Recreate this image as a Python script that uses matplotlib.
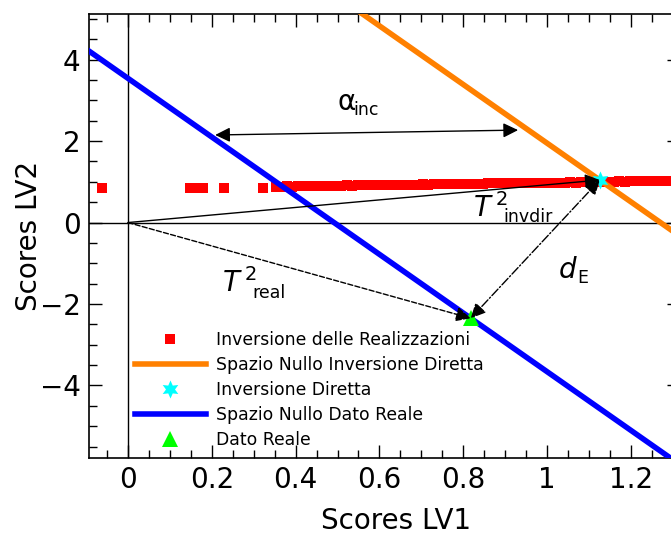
import matplotlib
matplotlib.use("Agg")
import matplotlib.pyplot as plt
from matplotlib.ticker import MultipleLocator, FuncFormatter

plt.rcParams['font.family'] = ['DejaVu Sans']
plt.rcParams['mathtext.fontset'] = 'dejavusans'

# realizzazioni (scores LV1, LV2)
real_x = [-0.063, 0.148, 0.165, 0.179, 0.228, 0.321,
          0.353, 0.366, 0.379, 0.392, 0.405, 0.418, 0.431, 0.444, 0.457, 0.470,
          0.483, 0.496, 0.509, 0.522, 0.535, 0.548, 0.561, 0.574, 0.587, 0.600,
          0.613, 0.626, 0.639, 0.652, 0.665, 0.678, 0.691, 0.704, 0.717, 0.730,
          0.743, 0.756, 0.769, 0.782, 0.795, 0.808, 0.821, 0.834, 0.847,
          0.860, 0.873, 0.886, 0.899, 0.912, 0.925, 0.938, 0.951, 0.964, 0.977,
          0.990, 1.003, 1.016, 1.029, 1.042, 1.055, 1.068, 1.081, 1.094,
          1.107, 1.120, 1.133, 1.146, 1.159, 1.172, 1.185, 1.198, 1.211, 1.224,
          1.237, 1.250, 1.263, 1.276, 1.289, 1.302, 1.315]
real_y = [0.84, 0.86, 0.86, 0.86, 0.86, 0.86,
          0.88, 0.88, 0.89, 0.88, 0.89, 0.89, 0.89, 0.90, 0.89, 0.90,
          0.90, 0.90, 0.90, 0.91, 0.90, 0.91, 0.91, 0.91, 0.91, 0.92,
          0.92, 0.93, 0.93, 0.92, 0.93, 0.93, 0.93, 0.94, 0.93, 0.94,
          0.94, 0.94, 0.94, 0.95, 0.94, 0.95, 0.95, 0.95, 0.95,
          0.96, 0.96, 0.96, 0.97, 0.96, 0.97, 0.97, 0.97, 0.97, 0.98,
          0.97, 0.98, 0.98, 0.98, 0.98, 0.99, 0.98, 0.99, 0.99,
          0.99, 1.00, 1.00, 1.00, 1.00, 1.01, 1.00, 1.01, 1.01, 1.01,
          1.01, 1.02, 1.01, 1.02, 1.02, 1.02, 1.02]

# spazi nulli (estremi dei segmenti)
null_dir_x = [0.45, 1.35]
null_dir_y = [5.91, -0.57]
null_real_x = [-0.10, 1.35]
null_real_y = [4.26, -6.18]

inv_dir = (1.126, 1.044)
dato_reale = (0.818, -2.35)
a_inc = [(0.208, 2.15), (0.931, 2.27)]

xticks = [0, 0.2, 0.4, 0.6, 0.8, 1, 1.2]
yticks = [-4, -2, 0, 2, 4]

fig = plt.figure(figsize=(6.71, 5.38), dpi=100)
ax = fig.add_axes([89 / 671, 80 / 538, 591 / 671, 444 / 538])

ax.axhline(0, color='k', lw=1.0, zorder=1)
ax.axvline(0, color='k', lw=1.0, zorder=1)

ax.plot(real_x, real_y, 's', color='#ff0000', ms=7, mew=0,
        label='Inversione delle Realizzazioni', zorder=2)
ax.plot(null_dir_x, null_dir_y, '-', color='#ff8000', lw=4,
        label='Spazio Nullo Inversione Diretta', zorder=3)
ax.plot(*inv_dir, marker=(6, 1, 0), ls='none', color='#00ffff', ms=13, mew=0,
        label='Inversione Diretta', zorder=4)
ax.plot(null_real_x, null_real_y, '-', color='#0000ff', lw=4,
        label='Spazio Nullo Dato Reale', zorder=5)
ax.plot(*dato_reale, '^', color='#00ff00', ms=11, mew=0,
        label='Dato Reale', zorder=6)


def arrow(p0, p1, ls='-', style='-|>'):
    ax.annotate('', xy=p1, xytext=p0, zorder=8,
                arrowprops=dict(arrowstyle=style + ',head_length=0.45,head_width=0.22',
                                color='k', lw=1.0, linestyle=ls,
                                shrinkA=0, shrinkB=0, mutation_scale=20))


arrow((0, 0), inv_dir, '-')
arrow((0, 0), dato_reale, '--')
arrow(dato_reale, inv_dir, '-.', '<|-|>')
arrow(a_inc[0], a_inc[1], '-', '<|-|>')


def label(x, y, main, xs, ys, sub):
    ax.text(x, y, main, fontsize=20, ha='left', va='baseline', zorder=9)
    ax.text(xs, ys, sub, fontsize=12.5, ha='left', va='baseline', zorder=9)


label(0.499, 2.76, 'α', 0.537, 2.64, 'inc')
label(0.823, 0.14, r'$T^{\,2}$', 0.895, 0.02, 'invdir')
label(0.224, -1.70, r'$T^{\,2}$', 0.298, -1.855, 'real')
label(1.026, -1.37, r'$d$', 1.072, -1.49, 'E')

ax.set_xlim(-0.0931, 1.3174)
ax.set_ylim(-5.78, 5.12)
ax.set_xticks(xticks)
ax.set_yticks(yticks)
ax.xaxis.set_major_formatter(FuncFormatter(lambda v, p: f'{v:g}'))
ax.xaxis.set_minor_locator(MultipleLocator(0.05))
ax.yaxis.set_minor_locator(MultipleLocator(0.5))
ax.tick_params(which='both', direction='in', top=True, right=True,
               width=1.0, labelsize=20)
ax.tick_params(which='major', length=9.7, pad=6)
ax.tick_params(which='minor', length=5.5)
for s in ax.spines.values():
    s.set_linewidth(1.2)

ax.set_xlabel('Scores LV1', fontsize=20)
ax.set_ylabel('Scores LV2', fontsize=20)
ax.xaxis.set_label_coords(0.519, -0.11)
ax.yaxis.set_label_coords(-0.078, 0.5)

leg = ax.legend(loc='upper left', bbox_to_anchor=(135 / 671, (538 - 331) / 538),
                bbox_transform=fig.transFigure, frameon=False, fontsize=12.4,
                numpoints=1, handlelength=4.1, handletextpad=0.62,
                labelspacing=0.4, borderpad=0, borderaxespad=0)

fig.savefig('out.png', dpi=100)
